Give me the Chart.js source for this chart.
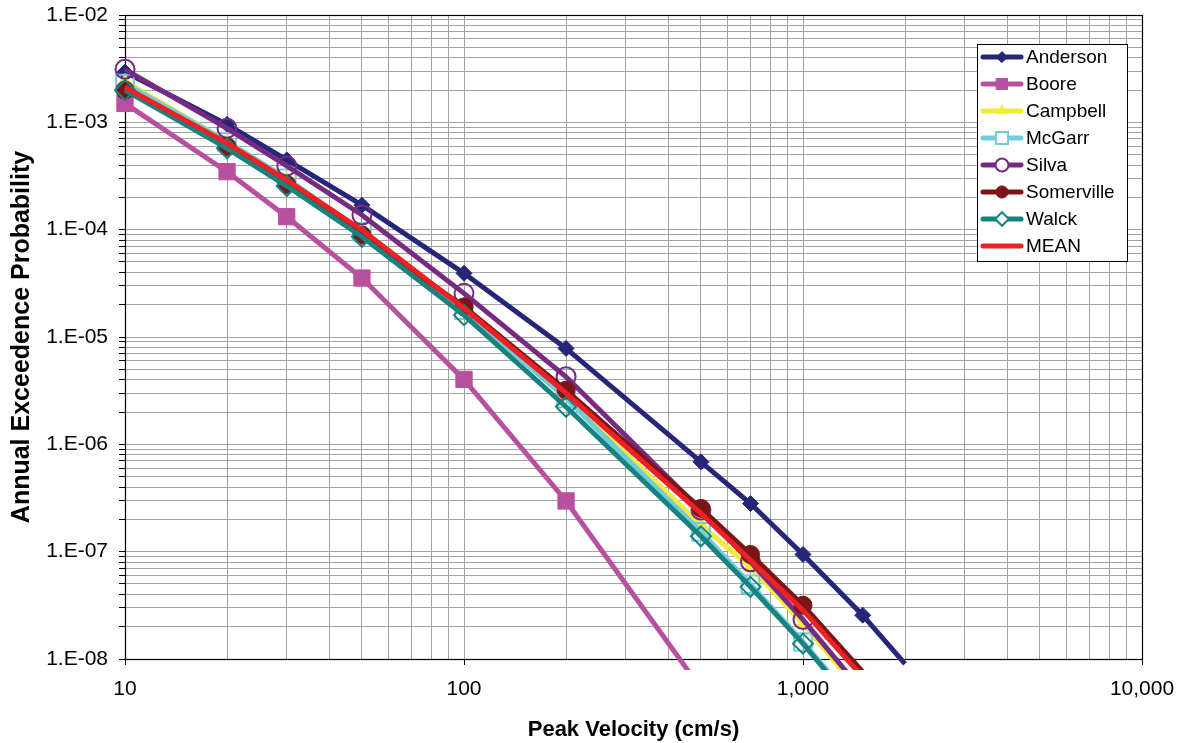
<!DOCTYPE html>
<html><head><meta charset="utf-8">
<script src="https://cdn.jsdelivr.net/npm/chart.js@4"></script>
<style>html,body{margin:0;padding:0;background:#fff}#wrap{width:1180px;height:743px;position:relative}canvas{display:block}</style>
</head><body><div id="wrap"><canvas id="c" width="1180" height="743"></canvas></div>
<script>
// ---- data ----
const velocities = [10, 20, 30, 50, 100, 200, 500, 700, 1000, 1500, 2000];
const seriesNames = ['Anderson', 'Boore', 'Campbell', 'McGarr', 'Silva', 'Somerville', 'Walck', 'MEAN'];
const anderson   = [2.94e-3, 9.58e-4, 4.46e-4, 1.69e-4, 3.92e-5, 7.83e-6, 6.87e-7, 2.81e-7, 9.42e-8, 2.56e-8, 9.0e-9];
const boore      = [1.50e-3, 3.47e-4, 1.32e-4, 3.54e-5, 4.03e-6, 2.97e-7, 5.3e-9, null, null, null, null];
const campbell   = [2.40e-3, 6.60e-4, 2.95e-4, 9.30e-5, 1.85e-5, 2.80e-6, 1.77e-7, 7.20e-8, 2.14e-8, 4.6e-9, null];
const mcgarr     = [2.30e-3, 6.59e-4, 3.01e-4, 9.57e-5, 1.78e-5, 2.68e-6, 1.53e-7, 4.97e-8, 1.44e-8, 3.2e-9, null];
const silva      = [3.12e-3, 8.79e-4, 3.92e-4, 1.37e-4, 2.55e-5, 4.26e-6, 2.44e-7, 8.04e-8, 2.33e-8, 5.0e-9, null];
const somerville = [2.00e-3, 5.93e-4, 2.64e-4, 8.91e-5, 1.91e-5, 3.20e-6, 2.53e-7, 9.42e-8, 3.17e-8, 7.6e-9, null];
const walck      = [2.00e-3, 5.73e-4, 2.55e-4, 8.59e-5, 1.60e-5, 2.24e-6, 1.39e-7, 4.70e-8, 1.39e-8, 3.0e-9, null];
const mean       = [2.12e-3, 6.40e-4, 2.90e-4, 9.90e-5, 1.85e-5, 3.00e-6, 2.27e-7, 8.30e-8, 2.85e-8, 6.8e-9, null];
const seriesValues = [anderson, boore, campbell, mcgarr, silva, somerville, walck, mean];

const xTickValues = [10, 100, 1000, 10000];
const xTickLabels = ['10', '100', '1,000', '10,000'];
const yTickValues = [1e-8, 1e-7, 1e-6, 1e-5, 1e-4, 1e-3, 1e-2];
const yTickLabels = ['1.E-08', '1.E-07', '1.E-06', '1.E-05', '1.E-04', '1.E-03', '1.E-02'];
const xTitle = 'Peak Velocity (cm/s)';
const yTitle = 'Annual Exceedence Probability';

// ---- styles ----
const FONT = "'Liberation Sans', Arial, sans-serif";
const styles = [
  {color: '#262678', ps: 'rectRot',  r: 8,    filled: true},
  {color: '#B7519F', ps: 'rect',     r: 11.5, filled: true},
  {color: '#F1EC3A', ps: 'triangle', r: 8,    filled: true},
  {color: '#70CEDB', ps: 'rect',     r: 12.5, filled: false},
  {color: '#772A83', ps: 'circle',   r: 9.5,  filled: false},
  {color: '#7D1518', ps: 'circle',   r: 9,    filled: true},
  {color: '#17827E', ps: 'rectRot',  r: 10,   filled: false},
  {color: '#EE2024', ps: false,      r: 0,    filled: true}
];

function decadeList(minExp, maxExp) {
  const out = [];
  for (let e = minExp; e < maxExp; e++) for (let m = 1; m <= 9; m++) out.push(parseFloat((m * Math.pow(10, e)).toPrecision(6)));
  out.push(parseFloat(Math.pow(10, maxExp).toPrecision(6)));
  return out;
}
function isPow10(v) { const l = Math.log10(v); return Math.abs(l - Math.round(l)) < 1e-9; }
function labelFor(v, vals, labels) {
  for (let i = 0; i < vals.length; i++) if (Math.abs(Math.log10(v) - Math.log10(vals[i])) < 1e-9) return labels[i];
  return '';
}

const N = seriesNames.length;
const datasets = seriesNames.map((name, i) => {
  const st = styles[i];
  const pts = [];
  velocities.forEach((v, k) => { if (seriesValues[i][k] != null) pts.push({x: v, y: seriesValues[i][k]}); });
  return {
    label: name,
    data: pts,
    borderColor: st.color,
    backgroundColor: st.color,
    borderWidth: 5,
    pointStyle: st.ps,
    pointRadius: ctx => (st.ps && ctx.raw && ctx.raw.y >= 1e-8) ? st.r : 0,
    pointBackgroundColor: st.filled ? st.color : 'rgba(0,0,0,0)',
    pointBorderColor: st.color,
    pointBorderWidth: st.filled ? 1 : 2,
    tension: 0,
    fill: false,
    order: N - i,
    clip: {left: 15, top: 5, right: 0, bottom: 11}
  };
});

const framePlugin = {
  id: 'frame',
  beforeDatasetsDraw(chart) {
    const {ctx, chartArea: a} = chart;
    ctx.save();
    ctx.strokeStyle = '#000';
    ctx.lineWidth = 1.2;
    ctx.strokeRect(Math.round(a.left) + 0.5, Math.round(a.top) + 0.5, Math.round(a.right - a.left), Math.round(a.bottom - a.top));
    ctx.restore();
  }
};

const legendPlugin = {
  id: 'boxLegend',
  afterDraw(chart) {
    const ctx = chart.ctx;
    const a = chart.chartArea;
    const bx = a.right - 165, by = a.top + 29, bw = 150, bh = 217;
    ctx.save();
    ctx.fillStyle = '#fff';
    ctx.fillRect(bx, by, bw, bh);
    ctx.strokeStyle = '#000';
    ctx.lineWidth = 1;
    ctx.strokeRect(bx + 0.5, by + 0.5, bw, bh);
    seriesNames.forEach((name, i) => {
      const st = styles[i];
      const y = by + 13 + i * 27;
      ctx.strokeStyle = st.color;
      ctx.lineWidth = 5;
      ctx.lineCap = 'round';
      ctx.beginPath();
      ctx.moveTo(bx + 6, y);
      ctx.lineTo(bx + 44, y);
      ctx.stroke();
      if (st.ps) {
        ctx.fillStyle = st.filled ? st.color : '#fff';
        ctx.strokeStyle = st.color;
        ctx.lineWidth = st.filled ? 1 : 2;
        Chart.helpers.drawPoint(ctx, {pointStyle: st.ps, radius: st.r * 0.68, borderWidth: st.filled ? 1 : 2, rotation: 0}, bx + 25, y);
      }
      ctx.fillStyle = '#000';
      ctx.font = '19px ' + FONT;
      ctx.textBaseline = 'middle';
      ctx.textAlign = 'left';
      ctx.fillText(name, bx + 49, y + 1);
    });
    ctx.restore();
  }
};

new Chart(document.getElementById('c'), {
  type: 'line',
  data: {datasets},
  options: {
    responsive: false,
    animation: false,
    devicePixelRatio: 1,
    layout: {padding: {left: 0, right: 38, top: 15, bottom: 0}},
    plugins: {legend: {display: false}, tooltip: {enabled: false}},
    scales: {
      x: {
        type: 'logarithmic', min: 10, max: 10000, position: 'bottom',
        afterBuildTicks: s => { s.ticks = decadeList(1, 4).map(v => ({value: v, major: isPow10(v)})); },
        afterFit: s => { s.height = 84; s.paddingLeft = 0; s.paddingRight = 0; },
        ticks: {autoSkip: false, maxRotation: 0, minRotation: 0, padding: 12, color: '#000',
          font: {family: FONT, size: 21},
          callback: v => labelFor(v, xTickValues, xTickLabels)},
        grid: {color: '#A3A3A3', lineWidth: 1, tickLength: 6,
          tickColor: c => (c.tick && isPow10(c.tick.value)) ? '#000' : 'rgba(0,0,0,0)'},
        border: {color: '#000', width: 1},
        title: {display: true, text: xTitle, color: '#000', font: {family: FONT, size: 22, weight: 'bold'}, padding: {top: 0, bottom: 0}}
      },
      y: {
        type: 'logarithmic', min: 1e-8, max: 1e-2, position: 'left',
        afterBuildTicks: s => { s.ticks = decadeList(-8, -2).map(v => ({value: v, major: isPow10(v)})); },
        afterFit: s => { s.width = 125; s.paddingTop = 0; s.paddingBottom = 0; },
        ticks: {autoSkip: false, padding: 11, color: '#000',
          font: {family: FONT, size: 21},
          callback: v => labelFor(v, yTickValues, yTickLabels)},
        grid: {color: '#A3A3A3', lineWidth: 1, tickLength: 6, tickColor: '#000'},
        border: {color: '#000', width: 1},
        title: {display: true, text: yTitle, color: '#000', font: {family: FONT, size: 25, weight: 'bold'}, padding: {top: 7, bottom: 0}}
      }
    }
  },
  plugins: [framePlugin, legendPlugin]
});
</script>
</body></html>
